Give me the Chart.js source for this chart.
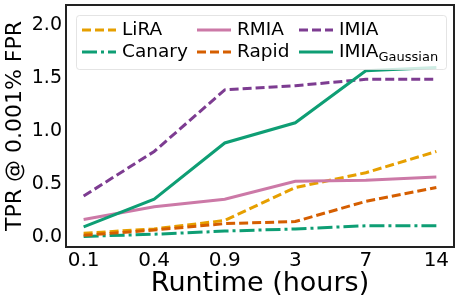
<!DOCTYPE html>
<html>
<head>
<meta charset="utf-8">
<script src="https://cdn.jsdelivr.net/npm/chart.js@4.4.1/dist/chart.umd.min.js"></script>
<style>
  html, body { margin: 0; padding: 0; background: #fff; }
  #wrap { width: 459px; height: 304px; }
</style>
</head>
<body>
<div id="wrap"><canvas id="chart" width="459" height="304"></canvas></div>
<script>
// runtime categories (hours)
const runtimes = ['0.1', '0.4', '0.9', '3', '7', '14'];
const yTicks = [0, 0.5, 1.0, 1.5, 2.0];

// TPR @ 0.001% FPR
const lira      = [0.04, 0.08, 0.16, 0.47, 0.61, 0.81];
const canary    = [0.01, 0.03, 0.06, 0.08, 0.11, 0.11];
const rmia      = [0.17, 0.29, 0.36, 0.53, 0.54, 0.57];
const rapid     = [0.02, 0.07, 0.13, 0.15, 0.34, 0.47];
const imia      = [0.39, 0.81, 1.39, 1.43, 1.49, 1.49];
const imiaGauss = [0.10, 0.36, 0.89, 1.08, 1.57, 1.60];

const FONT = "'DejaVu Sans', sans-serif";
const DASH = [9, 4];
const DASHDOT = [15, 4, 3, 4];

function pts(arr) {
    return arr.map((v, i) => ({x: i, y: v}));
}

const series = [
    {label: 'LiRA', data: lira, color: '#E69F00', dash: DASH},
    {label: 'Canary', data: canary, color: '#0E9E74', dash: DASHDOT},
    {label: 'RMIA', data: rmia, color: '#CC79A7', dash: []},
    {label: 'Rapid', data: rapid, color: '#D55E00', dash: DASH},
    {label: 'IMIA', data: imia, color: '#7D3C91', dash: DASH},
    {label: 'IMIA', sub: 'Gaussian', data: imiaGauss, color: '#0E9E74', dash: []},
];

const datasets = series.map((s, i) => ({
    label: s.label,
    sub: s.sub,
    data: pts(s.data),
    borderColor: s.color,
    backgroundColor: s.color,
    borderWidth: 3,
    borderDash: s.dash,
    pointRadius: 0,
    tension: 0,
    fill: false,
    order: series.length - 1 - i,
}));

// frame around the plot + matplotlib-style legend (3 columns, column-major)
const framePlugin = {
    id: 'frame',
    afterDatasetsDraw(chart) {
        const {ctx, chartArea: a} = chart;
        ctx.save();
        ctx.strokeStyle = '#222';
        ctx.lineWidth = 2;
        ctx.strokeRect(a.left, a.top, a.right - a.left, a.bottom - a.top);

        // legend box
        const bx = 76, by = 15, bw = 370, bh = 54;
        ctx.globalAlpha = 0.8;
        ctx.fillStyle = '#fff';
        ctx.strokeStyle = '#ddd';
        ctx.lineWidth = 1;
        ctx.beginPath();
        ctx.roundRect(bx + 0.5, by + 0.5, bw, bh, 3);
        ctx.fill();
        ctx.stroke();
        ctx.globalAlpha = 1;

        const colX = [82, 197, 299];
        const rowY = [30, 52];
        ctx.textBaseline = 'middle';
        ctx.textAlign = 'left';
        chart.data.datasets.forEach((ds, i) => {
            const col = Math.floor(i / 2), row = i % 2;
            const x = colX[col], y = rowY[row];
            ctx.strokeStyle = ds.borderColor;
            ctx.lineWidth = 3;
            ctx.setLineDash(ds.borderDash);
            ctx.beginPath();
            ctx.moveTo(x, y);
            ctx.lineTo(x + 34, y);
            ctx.stroke();
            ctx.setLineDash([]);
            ctx.fillStyle = '#000';
            ctx.font = '18.5px ' + FONT;
            ctx.fillText(ds.label, x + 40, y);
            if (ds.sub) {
                const w = ctx.measureText(ds.label).width;
                ctx.font = '13px ' + FONT;
                ctx.fillText(ds.sub, x + 40 + w, y + 6);
            }
        });
        ctx.restore();
    }
};

new Chart(document.getElementById('chart').getContext('2d'), {
    type: 'line',
    data: {datasets: datasets},
    options: {
        responsive: false,
        animation: false,
        layout: {padding: {top: 5, right: 5, left: 0, bottom: 0}},
        plugins: {legend: {display: false}, tooltip: {enabled: false}},
        scales: {
            x: {
                type: 'linear',
                min: -0.25,
                max: 5.25,
                grid: {display: false, drawTicks: false},
                border: {display: false},
                afterBuildTicks: (s) => { s.ticks = runtimes.map((_, i) => ({value: i})); },
                afterFit: (s) => {
                    s.height = 57;
                    s.paddingLeft = 0;
                    s.paddingRight = 0;
                },
                ticks: {
                    color: '#000',
                    padding: 2,
                    maxRotation: 0,
                    autoSkip: false,
                    font: {family: FONT, size: 20},
                    callback: (v) => runtimes[v],
                },
                title: {
                    display: true,
                    text: 'Runtime (hours)',
                    color: '#000',
                    font: {family: FONT, size: 27},
                    padding: {top: 0, bottom: 4},
                },
            },
            y: {
                min: -0.09,
                max: 2.19,
                grid: {display: false, drawTicks: false},
                border: {display: false},
                afterBuildTicks: (s) => { s.ticks = yTicks.map(v => ({value: v})); },
                afterFit: (s) => {
                    s.width = 66;
                    s.paddingTop = 0;
                    s.paddingBottom = 0;
                },
                ticks: {
                    color: '#000',
                    padding: 4,
                    font: {family: FONT, size: 19},
                    callback: (v) => v.toFixed(1),
                },
                title: {
                    display: true,
                    text: 'TPR @ 0.001% FPR',
                    color: '#000',
                    font: {family: FONT, size: 22},
                    padding: {top: 2, bottom: 0},
                },
            },
        },
    },
    plugins: [framePlugin],
});
</script>
</body>
</html>
